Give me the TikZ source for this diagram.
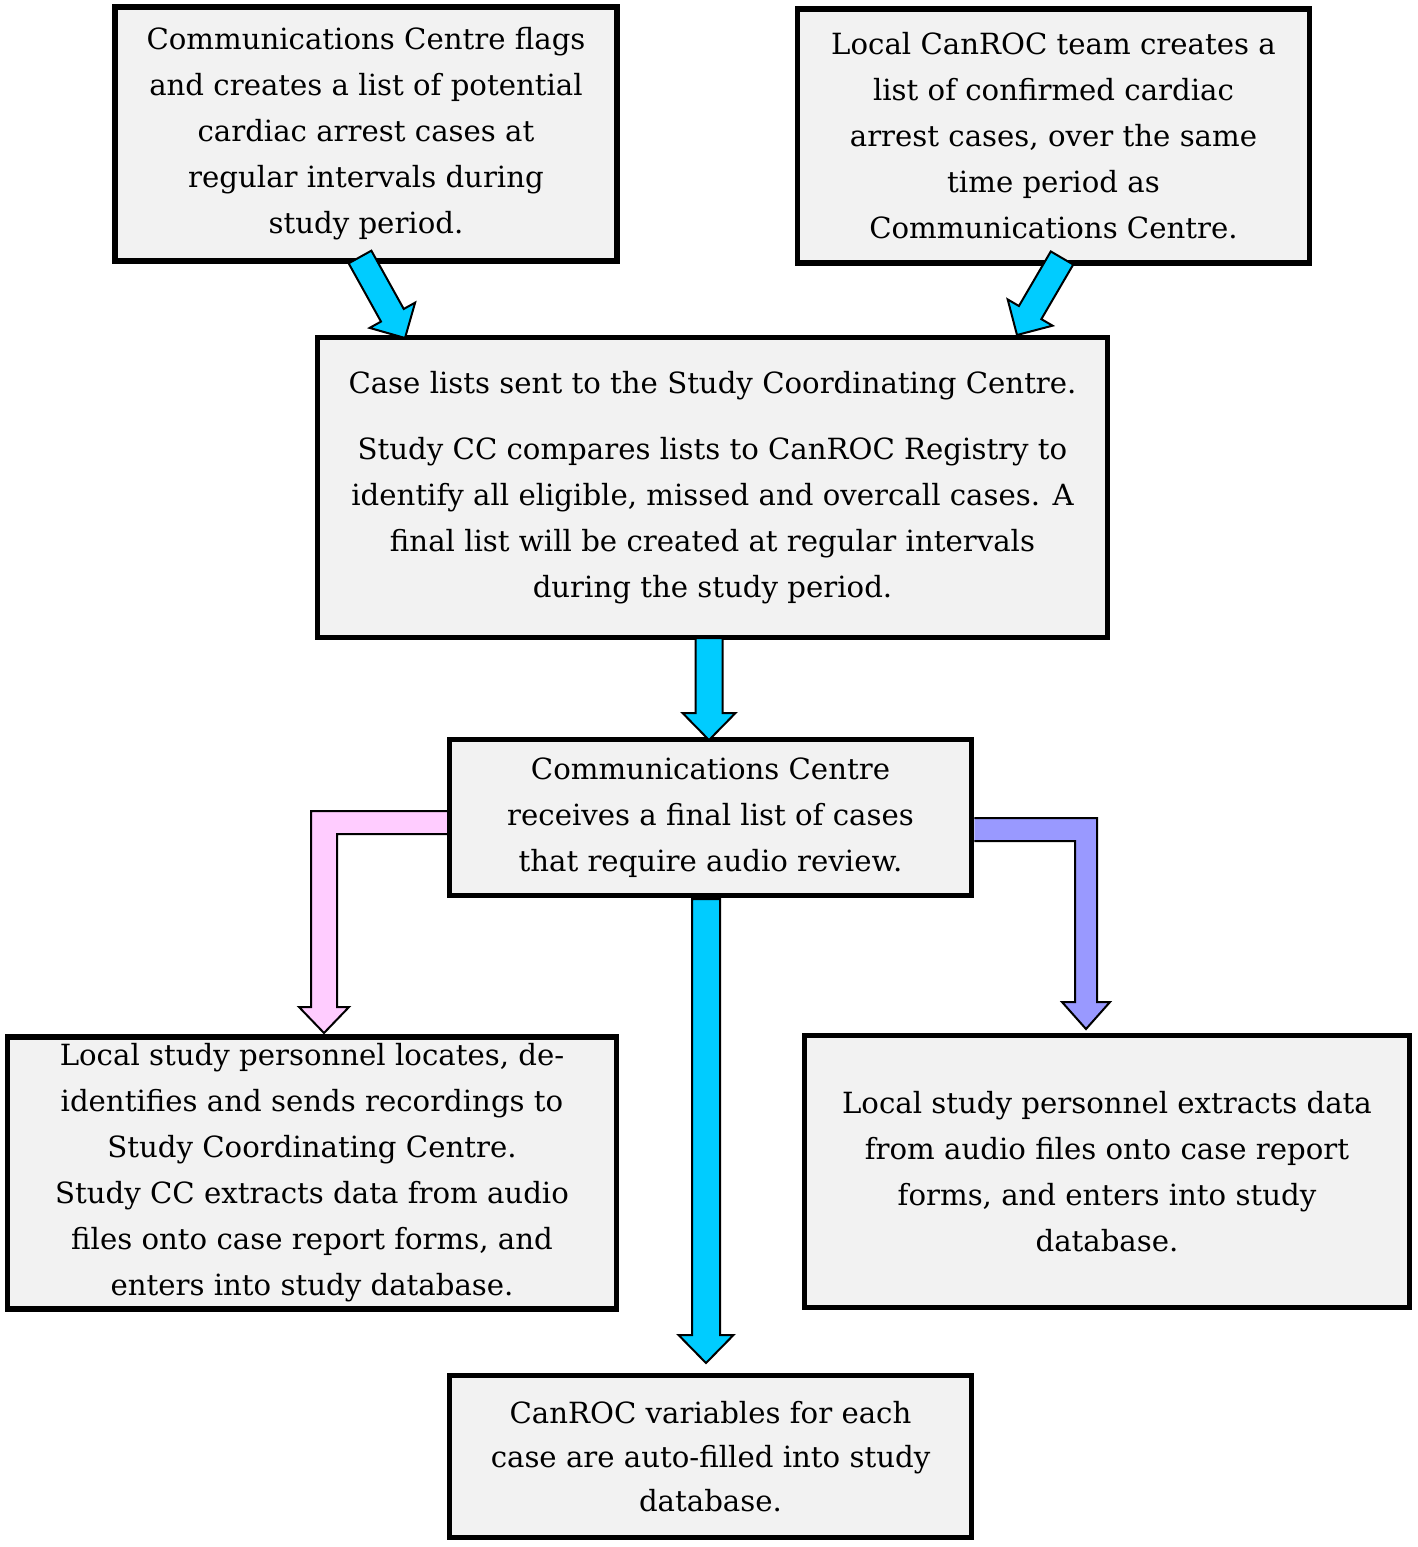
\documentclass[tikz,border=0pt]{standalone}
\usepackage{fontspec}
\setmainfont{DejaVu Serif}
\usetikzlibrary{calc}
\definecolor{boxfill}{HTML}{F2F2F2}
\definecolor{arrcyan}{HTML}{00CCFF}
\definecolor{arrpink}{HTML}{FFCCFF}
\definecolor{arrpurple}{HTML}{9999FF}
\tikzset{
  box/.style={draw=black, line width=2.75pt, fill=boxfill, align=center, inner sep=0pt,
    font=\fontsize{14.6}{23}\selectfont},
  barr/.style={draw=black, line width=1pt, line join=miter}
}
% \barrow{start}{tip}{shaft half}{head half}{head length}{colour}
\newcommand\barrow[6]{%
  \coordinate (hb) at ($(#2)!#5!(#1)$);
  \filldraw[barr, fill=#6] ($(#1)!#3!90:(#2)$) -- ($(hb)!#3!-90:(#1)$) -- ($(hb)!#4!-90:(#1)$) -- (#2)
    -- ($(hb)!#4!90:(#1)$) -- ($(hb)!#3!90:(#1)$) -- ($(#1)!#3!-90:(#2)$) -- cycle;}
\begin{document}
\begin{tikzpicture}[x=0.5pt,y=-0.5pt]
\useasboundingbox (0,0) rectangle (1418,1547);
\node[box, minimum width=251pt, minimum height=127pt] (b1) at (366,134)
 {Communications Centre flags\\and creates a list of potential\\cardiac arrest cases at\\regular intervals during\\study period.};
\node[box, minimum width=256pt, minimum height=127pt] (b2) at (1053.5,136)
 {Local CanROC team creates a\\list of confirmed cardiac\\arrest cases, over the same\\time period as\\Communications Centre.};
\node[box, minimum width=395pt, minimum height=150pt] (b3) at (712.5,487.5)
 {Case lists sent to the Study Coordinating Centre.\\[10pt]Study CC compares lists to CanROC Registry to\\identify all eligible, missed and overcall cases. A\\final list will be created at regular intervals\\during the study period.};
\node[box, minimum width=261pt, minimum height=78pt] (b4) at (710.5,817.5)
 {Communications Centre\\receives a final list of cases\\that require audio review.};
\node[box, minimum width=304.5pt, minimum height=136pt] (b5) at (312,1173)
 {Local study personnel locates, de-\\identifies and sends recordings to\\Study Coordinating Centre.\\Study CC extracts data from audio\\files onto case report forms, and\\enters into study database.};
\node[box, minimum width=302.5pt, minimum height=136pt] (b6) at (1107,1171.5)
 {Local study personnel extracts data\\from audio files onto case report\\forms, and enters into study\\database.};
\node[box, minimum width=261pt, minimum height=81pt, font=\fontsize{14.6}{22}\selectfont] (b7) at (710.5,1456.5)
 {CanROC variables for each\\case are auto-filled into study\\database.};
% straight / diagonal arrows
\coordinate (a1s) at (360,257); \coordinate (a1e) at (405,338);
\coordinate (a2s) at (1062,258); \coordinate (a2e) at (1017,335);
\coordinate (a3s) at (709,638); \coordinate (a3e) at (709,740);
\coordinate (a6s) at (706,899); \coordinate (a6e) at (706,1363);
\barrow{a1s}{a1e}{6.5pt}{13pt}{13pt}{arrcyan}
\barrow{a2s}{a2e}{6.5pt}{13pt}{13pt}{arrcyan}
\barrow{a3s}{a3e}{6.75pt}{13.25pt}{13.5pt}{arrcyan}
\barrow{a6s}{a6e}{7pt}{13.75pt}{14pt}{arrcyan}
% bent arrows
\filldraw[barr, fill=arrpink] (b4.west |- 0,811) -- (311,811) -- (311,1007) -- (299,1007) -- (324,1033)
  -- (349,1007) -- (337,1007) -- (337,834) -- (b4.west |- 0,834);
\filldraw[barr, fill=arrpurple] (b4.east |- 0,818) -- (1097,818) -- (1097,1002) -- (1110,1002) -- (1086,1029)
  -- (1062,1002) -- (1075,1002) -- (1075,841) -- (b4.east |- 0,841);
\end{tikzpicture}
\end{document}
